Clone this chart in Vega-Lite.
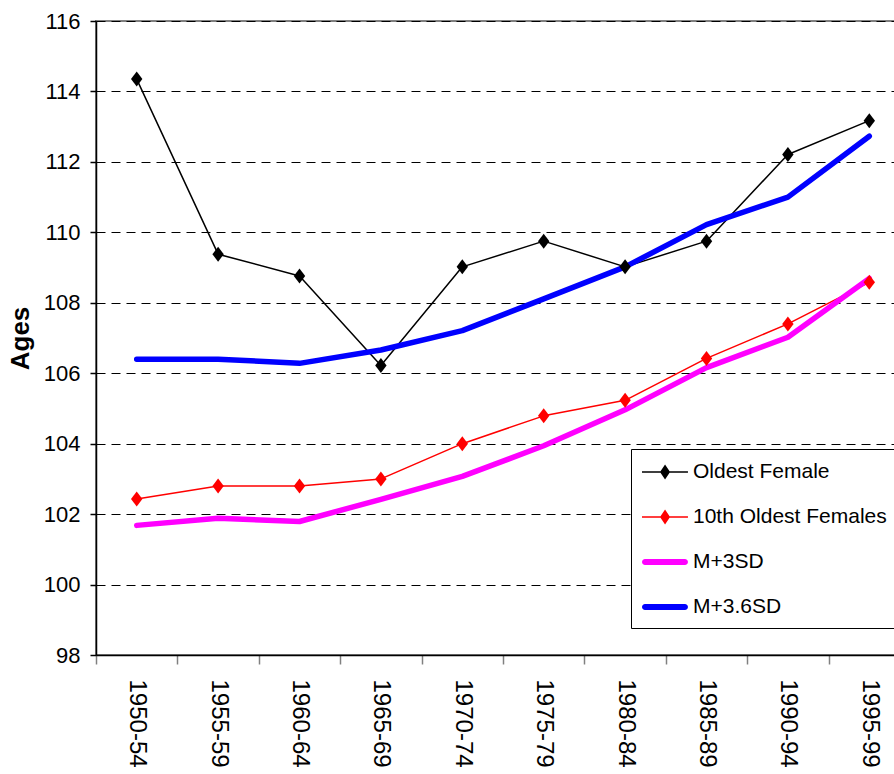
{
  "$schema": "https://vega.github.io/schema/vega-lite/v6.json",
  "width": 814,
  "height": 634,
  "autosize": {"type": "none"},
  "padding": {"left": 96, "top": 21, "right": 0, "bottom": 119},
  "background": "white",
  "config": {
    "view": {"stroke": "#808080", "strokeWidth": 2},
    "font": "Liberation Sans"
  },
  "data": {
    "values": [
      {"period": "1950-54", "series": "Oldest Female", "age": 114.35},
      {"period": "1955-59", "series": "Oldest Female", "age": 109.38},
      {"period": "1960-64", "series": "Oldest Female", "age": 108.76},
      {"period": "1965-69", "series": "Oldest Female", "age": 106.22},
      {"period": "1970-74", "series": "Oldest Female", "age": 109.02},
      {"period": "1975-79", "series": "Oldest Female", "age": 109.75},
      {"period": "1980-84", "series": "Oldest Female", "age": 109.02},
      {"period": "1985-89", "series": "Oldest Female", "age": 109.75},
      {"period": "1990-94", "series": "Oldest Female", "age": 112.21},
      {"period": "1995-99", "series": "Oldest Female", "age": 113.17},
      {"period": "1950-54", "series": "10th Oldest Females", "age": 102.43},
      {"period": "1955-59", "series": "10th Oldest Females", "age": 102.8},
      {"period": "1960-64", "series": "10th Oldest Females", "age": 102.8},
      {"period": "1965-69", "series": "10th Oldest Females", "age": 103.0},
      {"period": "1970-74", "series": "10th Oldest Females", "age": 104.0},
      {"period": "1975-79", "series": "10th Oldest Females", "age": 104.79},
      {"period": "1980-84", "series": "10th Oldest Females", "age": 105.23},
      {"period": "1985-89", "series": "10th Oldest Females", "age": 106.42},
      {"period": "1990-94", "series": "10th Oldest Females", "age": 107.4},
      {"period": "1995-99", "series": "10th Oldest Females", "age": 108.58},
      {"period": "1950-54", "series": "M+3SD", "age": 101.68},
      {"period": "1955-59", "series": "M+3SD", "age": 101.88},
      {"period": "1960-64", "series": "M+3SD", "age": 101.79},
      {"period": "1965-69", "series": "M+3SD", "age": 102.42},
      {"period": "1970-74", "series": "M+3SD", "age": 103.07},
      {"period": "1975-79", "series": "M+3SD", "age": 103.94},
      {"period": "1980-84", "series": "M+3SD", "age": 104.96},
      {"period": "1985-89", "series": "M+3SD", "age": 106.16},
      {"period": "1990-94", "series": "M+3SD", "age": 107.02},
      {"period": "1995-99", "series": "M+3SD", "age": 108.69},
      {"period": "1950-54", "series": "M+3.6SD", "age": 106.4},
      {"period": "1955-59", "series": "M+3.6SD", "age": 106.4},
      {"period": "1960-64", "series": "M+3.6SD", "age": 106.28},
      {"period": "1965-69", "series": "M+3.6SD", "age": 106.66},
      {"period": "1970-74", "series": "M+3.6SD", "age": 107.21},
      {"period": "1975-79", "series": "M+3.6SD", "age": 108.11},
      {"period": "1980-84", "series": "M+3.6SD", "age": 109.02},
      {"period": "1985-89", "series": "M+3.6SD", "age": 110.22},
      {"period": "1990-94", "series": "M+3.6SD", "age": 111.0},
      {"period": "1995-99", "series": "M+3.6SD", "age": 112.73}
    ]
  },
  "encoding": {
    "x": {
      "field": "period",
      "type": "ordinal",
      "bandPosition": 0.5,
      "scale": {"type": "band", "paddingInner": 0, "paddingOuter": 0},
      "axis": {
        "title": null,
        "grid": false,
        "tickBand": "extent",
        "tickSize": 9,
        "tickColor": "#808080",
        "tickWidth": 1.5,
        "domainColor": "black",
        "domainWidth": 1.5,
        "labelAngle": 90,
        "labelFontSize": 24,
        "labelColor": "black",
        "labelPadding": 15
      }
    },
    "y": {
      "field": "age",
      "type": "quantitative",
      "scale": {"domain": [98, 116], "nice": false, "zero": false},
      "axis": {
        "values": [98, 100, 102, 104, 106, 108, 110, 112, 114, 116],
        "grid": true,
        "gridDash": [9, 6],
        "gridColor": "black",
        "gridWidth": 1,
        "tickSize": 6,
        "tickColor": "black",
        "tickWidth": 1.5,
        "domainColor": "black",
        "domainWidth": 1.5,
        "labelFont": "Liberation Sans",
        "labelFontSize": 22,
        "labelColor": "black",
        "labelPadding": 10,
        "title": "Ages",
        "titleFont": "Liberation Sans",
        "titleFontSize": 26,
        "titleFontWeight": "bold",
        "titleColor": "black",
        "titlePadding": 10
      }
    }
  },
  "layer": [
    {
      "transform": [{"filter": "datum.series == 'Oldest Female' || datum.series == '10th Oldest Females'"}],
      "mark": {"type": "line", "strokeWidth": 1.5, "strokeJoin": "round"},
      "encoding": {
        "color": {
          "field": "series",
          "type": "nominal",
          "scale": {"domain": ["Oldest Female", "10th Oldest Females", "M+3SD", "M+3.6SD"], "range": ["#000000", "#FF0000", "#FF00FF", "#0000FF"]},
          "legend": {
            "orient": "none", "legendX": 535, "legendY": 428, "title": null,
            "fillColor": "white", "strokeColor": "black", "padding": 11, "rowPadding": 23,
            "labelFont": "Liberation Sans", "labelFontSize": 21, "labelColor": "black",
            "labelOffset": 27, "labelLimit": 300, "symbolSize": 576,
            "encode": {
              "symbols": {
                "update": {
                  "shape": {"signal": "datum.value == 'M+3SD' || datum.value == 'M+3.6SD' ? 'M-0.75,-0.25H2.58A0.25,0.25 0 0 1 2.58,0.25H-0.75A0.25,0.25 0 0 1 -0.75,-0.25Z' : 'M-1,-0.07H2.83V0.07H-1Z M0.92,-0.62L1.34,0L0.92,0.62L0.5,0Z'"},
                  "size": {"value": 576},
                  "fill": {"scale": "color", "field": "value"},
                  "stroke": {"value": "transparent"},
                  "strokeWidth": {"value": 0},
                  "opacity": {"value": 1}
                }
              }
            }
          }
        }
      }
    },
    {
      "transform": [{"filter": "datum.series == 'M+3SD' || datum.series == 'M+3.6SD'"}],
      "mark": {"type": "line", "strokeWidth": 5.5, "strokeJoin": "round", "strokeCap": "round"},
      "encoding": {
        "color": {
          "field": "series",
          "type": "nominal",
          "scale": {"domain": ["Oldest Female", "10th Oldest Females", "M+3SD", "M+3.6SD"], "range": ["#000000", "#FF0000", "#FF00FF", "#0000FF"]}
        }
      }
    },
    {
      "transform": [{"filter": "datum.series == 'Oldest Female' || datum.series == '10th Oldest Females'"}],
      "mark": {"type": "point", "filled": true, "opacity": 1, "size": 144, "shape": "M0,-1.25L0.95,0L0,1.25L-0.95,0Z"},
      "encoding": {
        "fill": {
          "field": "series",
          "type": "nominal",
          "scale": {"domain": ["Oldest Female", "10th Oldest Females", "M+3SD", "M+3.6SD"], "range": ["#000000", "#FF0000", "#FF00FF", "#0000FF"]},
          "legend": null
        }
      }
    }
  ]
}
